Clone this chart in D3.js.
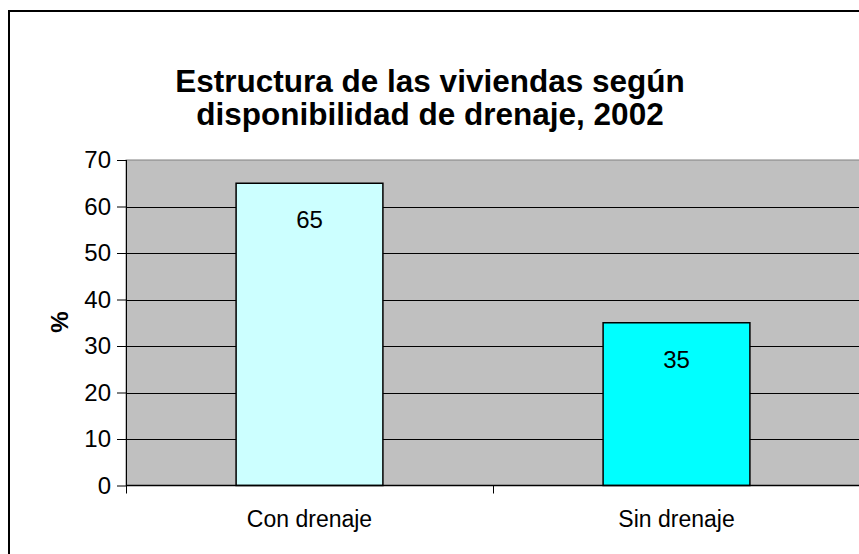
<!DOCTYPE html>
<html>
<head>
<meta charset="utf-8">
<script src="https://cdn.jsdelivr.net/npm/d3@7"></script>
<style>
  body { margin: 0; background: #fff; }
  svg { display: block; font-family: Arial, "Liberation Sans", sans-serif; }
</style>
</head>
<body>
<div id="chart"></div>
<script>
// datos
var categories = ["Con drenaje", "Sin drenaje"];
var values = [65, 35];
var barColors = ["#ccffff", "#00ffff"];
var yTicks = [0, 10, 20, 30, 40, 50, 60, 70];
var titleLines = ["Estructura de las viviendas según", "disponibilidad de drenaje, 2002"];

var W = 859, H = 554;
var plot = { left: 126, right: 860, top: 160, bottom: 485.5 };

var svg = d3.select("#chart").append("svg")
    .attr("width", W)
    .attr("height", H);

// marco exterior
svg.append("rect")
    .attr("x", 9).attr("y", 11)
    .attr("width", 870).attr("height", 560)
    .attr("fill", "#fff")
    .attr("stroke", "#000")
    .attr("stroke-width", 2);

// escalas
var xScale = d3.scaleBand()
    .domain(categories)
    .range([plot.left, plot.right])
    .paddingInner(0.6)
    .paddingOuter(0.3);

var xOuter = d3.scaleBand()
    .domain(categories)
    .range([plot.left, plot.right]);

var yScale = d3.scaleLinear()
    .domain([0, 70])
    .range([plot.bottom, plot.top]);

// área de trazado
svg.append("rect")
    .attr("x", plot.left).attr("y", plot.top)
    .attr("width", plot.right - plot.left)
    .attr("height", plot.bottom - plot.top)
    .attr("fill", "#c0c0c0")
    .attr("stroke", "#808080")
    .attr("stroke-width", 1);

// líneas de división
svg.append("g").selectAll("line")
    .data(yTicks.filter(function(d) { return d > 0 && d < 70; }))
    .enter().append("line")
    .attr("x1", plot.left).attr("x2", plot.right)
    .attr("y1", function(d) { return Math.round(yScale(d)) + 0.5; })
    .attr("y2", function(d) { return Math.round(yScale(d)) + 0.5; })
    .attr("stroke", "#000")
    .attr("stroke-width", 1);

// barras
var bars = svg.append("g").selectAll(".bar")
    .data(values)
    .enter().append("g")
    .attr("class", "bar");

bars.append("rect")
    .attr("x", function(d, i) { return xScale(categories[i]); })
    .attr("y", function(d) { return yScale(d); })
    .attr("width", xScale.bandwidth())
    .attr("height", function(d) { return yScale(0) - yScale(d); })
    .attr("fill", function(d, i) { return barColors[i]; })
    .attr("stroke", "#000")
    .attr("stroke-width", 1.5);

bars.append("text")
    .attr("x", function(d, i) { return xScale(categories[i]) + xScale.bandwidth() / 2; })
    .attr("y", function(d) { return yScale(d) + 45; })
    .attr("text-anchor", "middle")
    .style("font-size", "24px")
    .text(function(d) { return d; });

// eje y
var yAxis = d3.axisLeft(yScale)
    .tickValues(yTicks)
    .tickSize(9)
    .tickPadding(6);

var yG = svg.append("g")
    .attr("transform", "translate(" + plot.left + ",0)")
    .call(yAxis);
yG.select(".domain").attr("stroke", "#000").attr("d", "M0.5," + plot.top + "V" + plot.bottom);
yG.selectAll("text").style("font-size", "24px").attr("fill", "#000");

// eje x
var xAxis = d3.axisBottom(xOuter)
    .tickSize(0)
    .tickPadding(22);

var xG = svg.append("g")
    .attr("transform", "translate(0," + plot.bottom + ")")
    .call(xAxis);
xG.select(".domain").attr("stroke", "#000").attr("stroke-width", 1.5)
    .attr("d", "M" + plot.left + ",0H" + plot.right);
xG.selectAll("text").style("font-size", "23px").attr("fill", "#000")
    .attr("dy", "0.85em");

// marcas entre categorías
svg.append("g").selectAll("line")
    .data([plot.left, xOuter(categories[1])])
    .enter().append("line")
    .attr("x1", function(d) { return d + 0.5; })
    .attr("x2", function(d) { return d + 0.5; })
    .attr("y1", plot.bottom)
    .attr("y2", plot.bottom + 8)
    .attr("stroke", "#000");

// título del eje y
svg.append("text")
    .attr("transform", "translate(68,322) rotate(-90)")
    .attr("text-anchor", "middle")
    .style("font-size", "24px")
    .style("font-weight", "bold")
    .text("%");

// título
svg.append("g").selectAll("text")
    .data(titleLines)
    .enter().append("text")
    .attr("x", 430)
    .attr("y", function(d, i) { return 92 + i * 33; })
    .attr("text-anchor", "middle")
    .style("font-size", "31.5px")
    .style("font-weight", "bold")
    .text(function(d) { return d; });
</script>
</body>
</html>
